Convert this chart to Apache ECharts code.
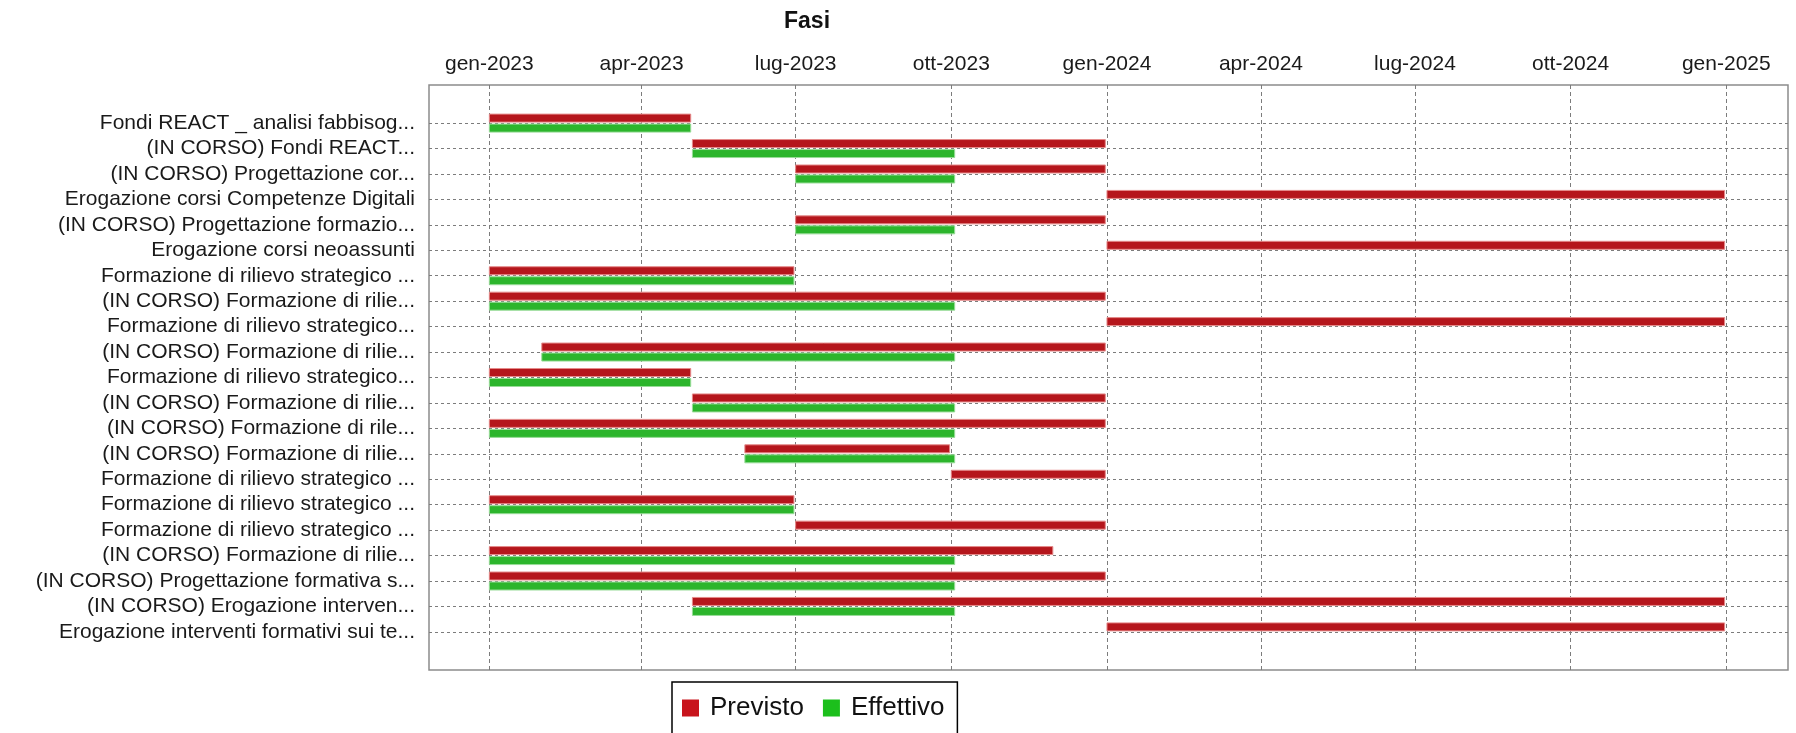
<!DOCTYPE html>
<html>
<head>
<meta charset="utf-8">
<script src="https://cdn.jsdelivr.net/npm/echarts@6/dist/echarts.min.js"></script>
<style>
  html, body { margin: 0; padding: 0; background: #ffffff; }
  #chart { width: 1796px; height: 733px; }
</style>
</head>
<body>
<div id="chart"></div>
<script>
// Activity names, top to bottom
const categories = [
  'Fondi REACT _ analisi fabbisog...',
  '(IN CORSO) Fondi REACT...',
  '(IN CORSO) Progettazione cor...',
  'Erogazione corsi Competenze Digitali',
  '(IN CORSO) Progettazione formazio...',
  'Erogazione corsi neoassunti',
  'Formazione di rilievo strategico ...',
  '(IN CORSO) Formazione di rilie...',
  'Formazione di rilievo strategico...',
  '(IN CORSO) Formazione di rilie...',
  'Formazione di rilievo strategico...',
  '(IN CORSO) Formazione di rilie...',
  '(IN CORSO) Formazione di rile...',
  '(IN CORSO) Formazione di rilie...',
  'Formazione di rilievo strategico ...',
  'Formazione di rilievo strategico ...',
  'Formazione di rilievo strategico ...',
  '(IN CORSO) Formazione di rilie...',
  '(IN CORSO) Progettazione formativa s...',
  '(IN CORSO) Erogazione interven...',
  'Erogazione interventi formativi sui te...'
];

// Planned schedule (Previsto)
const previstoStart = [
  '2023-01-01', '2023-05-01', '2023-07-01', '2024-01-01', '2023-07-01',
  '2024-01-01', '2023-01-01', '2023-01-01', '2024-01-01', '2023-02-01',
  '2023-01-01', '2023-05-01', '2023-01-01', '2023-06-01', '2023-10-01',
  '2023-01-01', '2023-07-01', '2023-01-01', '2023-01-01', '2023-05-01',
  '2024-01-01'
];
const previstoEnd = [
  '2023-04-30', '2023-12-31', '2023-12-31', '2024-12-31', '2023-12-31',
  '2024-12-31', '2023-06-30', '2023-12-31', '2024-12-31', '2023-12-31',
  '2023-04-30', '2023-12-31', '2023-12-31', '2023-09-30', '2023-12-31',
  '2023-06-30', '2023-12-31', '2023-11-30', '2023-12-31', '2024-12-31',
  '2024-12-31'
];

// Actual progress (Effettivo); null where nothing has started
const effettivoStart = [
  '2023-01-01', '2023-05-01', '2023-07-01', null, '2023-07-01',
  null, '2023-01-01', '2023-01-01', null, '2023-02-01',
  '2023-01-01', '2023-05-01', '2023-01-01', '2023-06-01', null,
  '2023-01-01', null, '2023-01-01', '2023-01-01', '2023-05-01',
  null
];
const effettivoEnd = [
  '2023-04-30', '2023-10-03', '2023-10-03', null, '2023-10-03',
  null, '2023-06-30', '2023-10-03', null, '2023-10-03',
  '2023-04-30', '2023-10-03', '2023-10-03', '2023-10-03', null,
  '2023-06-30', null, '2023-10-03', '2023-10-03', '2023-10-03',
  null
];

// Quarter marks on the date axis
const tickDates = [
  '2023-01-01', '2023-04-01', '2023-07-01', '2023-10-01', '2024-01-01',
  '2024-04-01', '2024-07-01', '2024-10-01', '2025-01-01'
];
const monthNames = ['gen', 'feb', 'mar', 'apr', 'mag', 'giu', 'lug', 'ago', 'set', 'ott', 'nov', 'dic'];

const toTime = s => new Date(s + 'T00:00:00').getTime();
const axisMin = new Date('2022-11-26T08:00:00').getTime();
const axisMax = new Date('2025-02-06T11:00:00').getTime();
const tickValues = tickDates.map(toTime);

function buildRows(starts, ends) {
  const out = [];
  for (let i = 0; i < categories.length; i++) {
    if (starts[i] && ends[i]) out.push([i, toTime(starts[i]), toTime(ends[i])]);
  }
  return out;
}

function barRenderer(offTop, offBottom, fill, stroke) {
  return function (params, api) {
    const row = api.value(0);
    const a = api.coord([api.value(1), row]);
    const b = api.coord([api.value(2), row]);
    return {
      type: 'rect',
      shape: { x: a[0], y: a[1] + offTop, width: b[0] - a[0], height: offBottom - offTop },
      style: { fill: fill, stroke: stroke, lineWidth: 1 }
    };
  };
}

const FONT = "'Liberation Sans', Arial, sans-serif";
const gridLine = '#7c7c7c';

const chart = echarts.init(document.getElementById('chart'), null, { renderer: 'canvas' });

chart.setOption({
  backgroundColor: '#ffffff',
  animation: false,
  title: {
    text: 'Fasi',
    left: 784,
    top: 10,
    padding: 0,
    textStyle: { fontFamily: FONT, fontSize: 23, fontWeight: 'bold', color: '#111' }
  },
  legend: {
    data: ['Previsto', 'Effettivo'],
    left: 672,
    top: 682,
    orient: 'horizontal',
    icon: 'rect',
    itemWidth: 17,
    itemHeight: 17,
    itemGap: 19,
    padding: [13, 13, 40, 10],
    borderColor: '#000',
    borderWidth: 1.5,
    textStyle: { fontFamily: FONT, fontSize: 26, color: '#111', padding: [0, 0, 0, 6] }
  },
  grid: [
    // frame with the vertical grid lines
    { left: 429, right: 8, top: 85, bottom: 63, show: true, borderColor: '#8c8c8c', borderWidth: 1.5, backgroundColor: '#ffffff' },
    // band area for the activity rows
    { left: 429, right: 8, top: 110.4, bottom: 88.4 }
  ],
  xAxis: [
    {
      gridIndex: 0,
      type: 'value',
      position: 'top',
      min: axisMin,
      max: axisMax,
      axisLine: { show: false },
      axisTick: {
        show: true, inside: false, length: 5, customValues: tickValues,
        lineStyle: { color: gridLine, type: [4, 3] }
      },
      axisLabel: {
        customValues: tickValues,
        showMinLabel: true,
        showMaxLabel: true,
        margin: 10,
        fontFamily: FONT,
        fontSize: 21,
        color: '#1a1a1a',
        hideOverlap: false,
        formatter: function (v) {
          const d = new Date(v);
          return monthNames[d.getMonth()] + '-' + d.getFullYear();
        }
      },
      splitLine: {
        show: true,
        lineStyle: { color: gridLine, type: [4, 3], width: 1 }
      }
    },
    {
      gridIndex: 1,
      type: 'value',
      min: axisMin,
      max: axisMax,
      show: false
    }
  ],
  yAxis: [
    { gridIndex: 0, type: 'value', show: false, min: 0, max: 1 },
    {
      gridIndex: 1,
      type: 'category',
      inverse: true,
      data: categories,
      axisLine: { show: false },
      axisTick: { show: false },
      axisLabel: {
        interval: 0,
        margin: 14,
        fontFamily: FONT,
        fontSize: 21,
        color: '#1a1a1a'
      },
      splitLine: {
        show: true,
        alignWithLabel: true,
        interval: 0,
        lineStyle: { color: gridLine, type: [3, 3], width: 1 }
      }
    }
  ],
  series: [
    {
      name: 'Previsto',
      type: 'custom',
      xAxisIndex: 1,
      yAxisIndex: 1,
      itemStyle: { color: '#c8141c' },
      encode: { x: [1, 2], y: 0 },
      renderItem: barRenderer(-9, -1, '#b5161c', '#e58a8a'),
      data: buildRows(previstoStart, previstoEnd)
    },
    {
      name: 'Effettivo',
      type: 'custom',
      xAxisIndex: 1,
      yAxisIndex: 1,
      itemStyle: { color: '#1cbf1c' },
      encode: { x: [1, 2], y: 0 },
      renderItem: barRenderer(1, 9, '#2cb52c', '#98dc98'),
      data: buildRows(effettivoStart, effettivoEnd)
    }
  ]
});
</script>
</body>
</html>
